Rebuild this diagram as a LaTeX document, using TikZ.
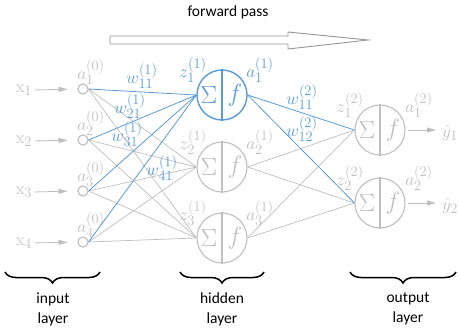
\documentclass[tikz,border=0pt]{standalone}
\usepackage[no-math]{fontspec}
\setmainfont{Carlito}
\usetikzlibrary{arrows.meta,decorations.pathreplacing}
\definecolor{lg}{RGB}{191,191,191}
\definecolor{bl}{RGB}{91,155,213}
\definecolor{ag}{RGB}{150,150,150}
\begin{document}
\begin{tikzpicture}[x=1pt,y=-1pt,
  inp/.style={circle,draw=lg,line width=1pt,minimum size=10pt,inner sep=0pt},
  neuron/.style={circle,draw=lg,line width=1.1pt,minimum size=50pt,inner sep=0pt},
  bneuron/.style={neuron,draw=bl,line width=1.4pt},
  lab/.style={font=\fontsize{19}{22}\selectfont,text=lg,inner sep=0pt},
  blab/.style={lab,text=bl},
  sym/.style={font=\fontsize{24}{26}\selectfont,text=lg,inner sep=0pt},
  bsym/.style={sym,text=bl},
  conn/.style={draw=lg,line width=0.7pt},
  bconn/.style={draw=bl,line width=0.8pt},
  inarrow/.style={draw=lg,line width=0.8pt,-{Triangle[length=9pt,width=5pt]}},
  capt/.style={font=\fontsize{15.5}{18}\selectfont,align=center,inner sep=0pt},
  bracestyle/.style={decorate,decoration={brace,mirror,amplitude=11pt},line width=1.5pt}
]
\useasboundingbox (0,0) rectangle (460,335);

% forward pass arrow
\node[capt] (fp) at (228,12) {forward pass};
\draw[draw=ag,fill=white,line width=0.9pt] (110,36) -- (288,36) -- (288,32) -- (368,40) -- (288,49) -- (288,44) -- (110,44) -- cycle;

% input nodes
\foreach \i/\y in {1/89,2/140,3/191,4/242}{
  \node[inp] (i\i) at (83,\y) {};
  \node[lab] (x\i) at (24,\y+1) {$\mathrm{x}_{\i}$};
  \node[lab] (ia\i) at (91,\y-17) {$a_{\i}^{(0)}$};
}

% hidden neurons
\node[bneuron] (h1) at (222,95) {};
\node[neuron] (h2) at (222,167) {};
\node[neuron] (h3) at (222,238) {};
% outputs
\node[neuron] (o1) at (380,130) {};
\node[neuron] (o2) at (380,203) {};

% gray connections
\foreach \i in {1,...,4}{
  \foreach \j in {2,3}{
    \draw[conn] (i\i.east) -- (h\j.west);
  }
}
\foreach \j in {2,3}{
  \foreach \k in {1,2}{
    \draw[conn] (h\j.east) -- (o\k.west);
  }
}
% blue connections
\foreach \i in {1,...,4}{
  \draw[bconn] (i\i.east) -- (h1.west);
}
\draw[bconn] (h1.east) -- (o1.west);
\draw[bconn] (h1.east) -- (o2.west);

% redraw input circles on top
\foreach \i in {1,...,4}{ \node[inp,fill=white] at (i\i) {}; }

% neuron interiors
\draw[draw=bl,line width=1.4pt] (h1.north) -- (h1.south);
\node[bsym] (s1) at (209,95) {$\Sigma$};
\node[bsym] (f1) at (235,95) {$f$};
\foreach \n in {h2,h3,o1,o2}{
  \draw[draw=lg,line width=1.1pt] (\n.north) -- (\n.south);
  \node[sym] at ([xshift=-13pt]\n.center) {$\Sigma$};
  \node[sym] at ([xshift=13pt]\n.center) {$f$};
}

% input arrows
\foreach \i in {1,...,4}{
  \draw[inarrow,shorten <=3pt,shorten >=10pt] (x\i.east) -- (i\i.west);
}

% hidden labels
\node[blab] (z1) at (193,70) {$z_1^{(1)}$};
\node[blab] (a1) at (260,70) {$a_1^{(1)}$};
\node[lab] (z2) at (193,142) {$z_2^{(1)}$};
\node[lab] (a2) at (260,142) {$a_2^{(1)}$};
\node[lab] (z3) at (193,213) {$z_3^{(1)}$};
\node[lab] (a3) at (260,213) {$a_3^{(1)}$};

% output labels
\node[lab] (oz1) at (350,105) {$z_1^{(2)}$};
\node[lab] (oa1) at (419,105) {$a_1^{(2)}$};
\node[lab] (oz2) at (350,178) {$z_2^{(2)}$};
\node[lab] (oa2) at (419,178) {$a_2^{(2)}$};

% outputs
\node[lab,anchor=west] (y1) at (442,133) {$\hat{y}_1$};
\node[lab,anchor=west] (y2) at (442,206) {$\hat{y}_2$};
\draw[inarrow,shorten <=2pt,shorten >=6pt] (o1.east) -- (y1.west |- o1.east);
\draw[inarrow,shorten <=2pt,shorten >=6pt] (o2.east) -- (y2.west |- o2.east);

% weights
\node[blab] (w11) at (142,76) {$w_{11}^{(1)}$};
\node[blab] (w21) at (130,106) {$w_{21}^{(1)}$};
\node[blab] (w31) at (127,134) {$w_{31}^{(1)}$};
\node[blab] (w41) at (162,168) {$w_{41}^{(1)}$};
\node[blab] (v11) at (302,97) {$w_{11}^{(2)}$};
\node[blab] (v12) at (302,129) {$w_{12}^{(2)}$};

% braces and captions
\draw[bracestyle] (5,272) -- (100,272);
\draw[bracestyle] (180,272) -- (264,272);
\draw[bracestyle] (350,272) -- (456,272);
\node[capt] (c1) at (53,309) {input\\[2pt]layer};
\node[capt] (c2) at (222,309) {hidden\\[2pt]layer};
\node[capt] (c3) at (408,309) {output\\[2pt]layer};
\end{tikzpicture}
\end{document}
